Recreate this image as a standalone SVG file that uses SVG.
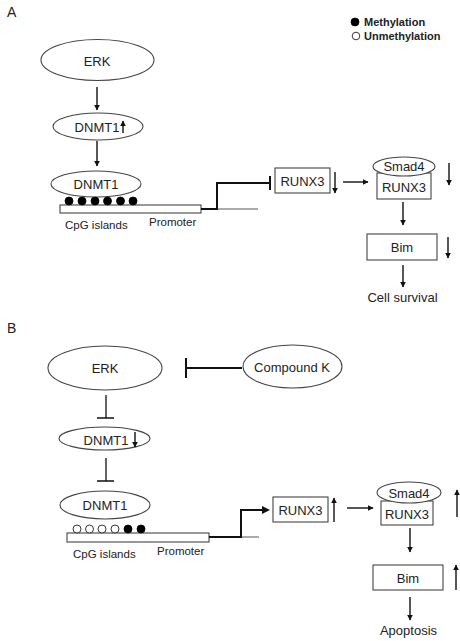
<svg xmlns="http://www.w3.org/2000/svg" width="460" height="641" viewBox="0 0 460 641">
<defs>
<marker id="ah" viewBox="0 0 10 10" refX="9" refY="5" markerWidth="6" markerHeight="6" markerUnits="userSpaceOnUse" orient="auto"><path d="M0,0 L10,5 L0,10 z" fill="#111"/></marker>
<style>
text{font-family:"Liberation Sans",Arial,sans-serif;fill:#222;}
.t{font-size:13px;text-anchor:middle;}
.s{font-size:11.5px;}
.lg{font-size:11px;font-weight:bold;}
.lab{font-size:14px;}
.el{fill:#fff;stroke:#444;stroke-width:1.1;}
.bx{fill:#fff;stroke:#444;stroke-width:1.1;}
.ln{fill:none;stroke:#111;stroke-width:1.3;}
.thk{fill:none;stroke:#111;stroke-width:2;}
.gl{fill:none;stroke:#555;stroke-width:1;}
.ar{fill:none;stroke:#111;stroke-width:1.4;marker-end:url(#ah);}
.dm{fill:#000;stroke:#000;stroke-width:0.8;}
.du{fill:#fff;stroke:#222;stroke-width:0.9;}
</style>
</defs>
<rect width="460" height="641" fill="#fff"/>

<text class="lab" x="7" y="17">A</text>
<text class="lab" x="7" y="333">B</text>

<g id="legend">
<circle class="dm" cx="355" cy="22" r="4"/>
<text class="lg" x="364" y="26">Methylation</text>
<circle class="du" cx="356" cy="36" r="3.8"/>
<text class="lg" x="364" y="40">Unmethylation</text>
</g>

<!-- Panel A nodes -->
<g id="a-erk"><ellipse class="el" cx="97.5" cy="60" rx="56.5" ry="20.5"/><text class="t" x="97" y="66">ERK</text></g>
<g id="a-dnmt1-up"><ellipse class="el" cx="98" cy="126.5" rx="45" ry="13.5"/><text class="t" x="97" y="131.5">DNMT1</text><path class="ar" d="M123,133 V121"/></g>
<g id="a-dnmt1"><ellipse class="el" cx="96" cy="184" rx="45" ry="13"/><text class="t" x="96" y="189">DNMT1</text></g>
<g id="a-promoter">
<rect class="bx" x="60" y="205" width="141" height="8"/>
<circle class="dm" cx="69" cy="201" r="4"/><circle class="dm" cx="82" cy="201" r="4"/><circle class="dm" cx="95" cy="201" r="4"/><circle class="dm" cx="107.5" cy="201" r="4"/><circle class="dm" cx="120.5" cy="201" r="4"/><circle class="dm" cx="133" cy="201" r="4"/>
<text class="s" x="65" y="229">CpG islands</text><text class="s" x="149" y="226">Promoter</text>
</g>
<g id="a-runx3"><rect class="bx" x="275" y="168" width="55" height="25"/><text class="t" x="302.5" y="186">RUNX3</text><path class="ar" d="M335,172 V193"/></g>
<g id="a-smad4-runx3"><rect class="bx" x="377" y="173" width="54" height="26"/><ellipse class="el" cx="404" cy="166.5" rx="31" ry="9.5"/><text class="t" x="404" y="171">Smad4</text><text class="t" x="404" y="192">RUNX3</text><path class="ar" d="M449,163 V185"/></g>
<g id="a-bim"><rect class="bx" x="367" y="234" width="70" height="26"/><text class="t" x="402" y="252">Bim</text><path class="ar" d="M448,237 V258"/></g>
<g id="a-survival"><text class="t" x="402.5" y="302">Cell survival</text></g>

<!-- Panel B nodes -->
<g id="b-erk"><ellipse class="el" cx="105" cy="368" rx="57" ry="22"/><text class="t" x="105" y="373">ERK</text></g>
<g id="b-ck"><ellipse class="el" cx="292.5" cy="366.5" rx="49.5" ry="21.5"/><text class="t" x="292" y="372">Compound K</text></g>
<g id="b-dnmt1-down"><ellipse class="el" cx="104.5" cy="438.5" rx="45.5" ry="11.5"/><text class="t" x="106" y="444.5">DNMT1</text><path class="ar" d="M135,432 V447"/></g>
<g id="b-dnmt1"><ellipse class="el" cx="105" cy="505" rx="45" ry="14"/><text class="t" x="105" y="510">DNMT1</text></g>
<g id="b-promoter">
<rect class="bx" x="67" y="533" width="142" height="9"/>
<circle class="du" cx="77" cy="529" r="4"/><circle class="du" cx="89.5" cy="529" r="4"/><circle class="du" cx="102" cy="529" r="4"/><circle class="du" cx="115" cy="529" r="4"/><circle class="dm" cx="128" cy="529" r="4"/><circle class="dm" cx="141" cy="529" r="4"/>
<text class="s" x="73" y="558">CpG islands</text><text class="s" x="157" y="555">Promoter</text>
</g>
<g id="b-runx3"><rect class="bx" x="273" y="497" width="55" height="25"/><text class="t" x="300.5" y="515">RUNX3</text><path class="ar" d="M334,522 V498"/></g>
<g id="b-smad4-runx3"><rect class="bx" x="381" y="501" width="52" height="24"/><ellipse class="el" cx="409" cy="492.5" rx="32" ry="10.5"/><text class="t" x="409" y="497.5">Smad4</text><text class="t" x="407" y="519">RUNX3</text><path class="ar" d="M457,517 V490"/></g>
<g id="b-bim"><rect class="bx" x="373" y="565" width="70" height="25"/><text class="t" x="408" y="583">Bim</text><path class="ar" d="M456,590 V565"/></g>
<g id="b-apoptosis"><text class="t" x="408.5" y="635">Apoptosis</text></g>

<g id="connectors">
<!-- A -->
<path class="ar" d="M97,87 V110"/>
<path class="ar" d="M97,141 V166"/>
<path class="gl" d="M201,209 H258"/>
<path class="thk" d="M201,209 H217 V183 H270"/>
<path class="thk" d="M270,176 V190"/>
<path class="ar" d="M343,182 H368"/>
<path class="ar" d="M403,202 V225"/>
<path class="ar" d="M403,265 V287"/>
<!-- B -->
<path class="thk" d="M242,368 H186"/>
<path class="thk" d="M186,358 V378"/>
<path class="ln" d="M106,395 V418 M97,418 H114"/>
<path class="ln" d="M106,458 V481 M97,481 H114"/>
<path class="gl" d="M209,537 H259"/>
<path class="thk" d="M209,537 H241 V510 H262"/>
<path fill="#111" d="M262,506 L270,510 L262,514 z"/>
<path class="ar" d="M347,508 H373"/>
<path class="ar" d="M410,528 V552"/>
<path class="ar" d="M410,597 V620"/>
</g>
</svg>
